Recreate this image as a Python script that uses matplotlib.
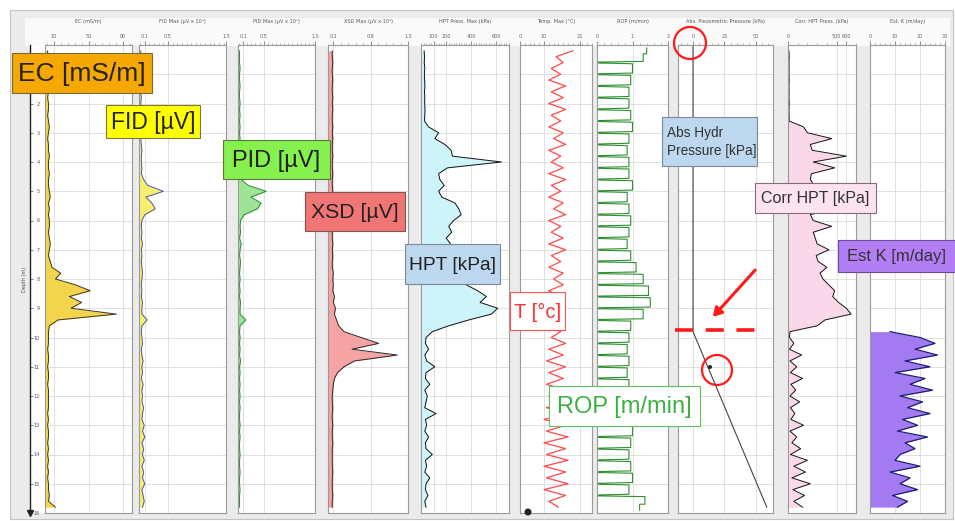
import numpy as np
import matplotlib
matplotlib.use("Agg")
import matplotlib.pyplot as plt
from matplotlib import patches
from matplotlib.ticker import AutoMinorLocator

W, H = 955, 521
nan = np.nan

# depth of each reading (m), 0.2 m spacing
depth_m = np.round(np.arange(1, 80) * 0.2, 1)

ec_ms_m = [3, 3, 4, 3, 4, 3, 4, 4, 3, 4,
           4, 3, 4, 5, 4, 3, 4, 4, 5, 4,
           4, 5, 4, 4, 5, 6, 4, 5, 4, 5,
           5, 4, 5, 6, 5, 4, 6, 8, 18, 12,
           35, 52, 28, 42, 30, 82, 15, 5, 4, 4,
           4, 3, 4, 4, 3, 4, 4, 3, 4, 4,
           4, 4, 3, 4, 3, 4, 4, 3, 4, 3,
           4, 3, 4, 3, 4, 4, 5, 4, 12]

fid_uv = [0.03, 0.03, 0.04, 0.03, 0.03, 0.04, 0.03, 0.03, 0.04, 0.03,
          0.04, 0.03, 0.04, 0.05, 0.04, 0.03, 0.04, 0.05, 0.04, 0.04,
          0.05, 0.04, 0.08, 0.15, 0.42, 0.12, 0.22, 0.28, 0.10, 0.05,
          0.04, 0.05, 0.04, 0.06, 0.04, 0.05, 0.04, 0.05, 0.06, 0.05,
          0.04, 0.05, 0.04, 0.06, 0.05, 0.05, 0.14, 0.05, 0.04, 0.05,
          0.06, 0.04, 0.05, 0.07, 0.05, 0.06, 0.04, 0.07, 0.05, 0.06,
          0.05, 0.08, 0.06, 0.05, 0.09, 0.06, 0.10, 0.05, 0.08, 0.06,
          0.09, 0.05, 0.08, 0.06, 0.10, 0.05, 0.07, 0.09, 0.06]

pid_uv = [0.03, 0.03, 0.03, 0.04, 0.03, 0.03, 0.04, 0.03, 0.03, 0.04,
          0.03, 0.04, 0.03, 0.04, 0.03, 0.04, 0.03, 0.04, 0.04, 0.03,
          0.04, 0.03, 0.06, 0.20, 0.55, 0.25, 0.45, 0.38, 0.12, 0.05,
          0.04, 0.05, 0.03, 0.06, 0.04, 0.03, 0.05, 0.04, 0.03, 0.04,
          0.03, 0.04, 0.03, 0.05, 0.04, 0.04, 0.15, 0.04, 0.03, 0.04,
          0.03, 0.04, 0.03, 0.05, 0.03, 0.04, 0.03, 0.04, 0.03, 0.04,
          0.03, 0.04, 0.03, 0.03, 0.04, 0.03, 0.04, 0.03, 0.03, 0.04,
          0.03, 0.03, 0.04, 0.03, 0.03, 0.04, 0.03, 0.03, 0.03]

xsd_uv = [0.08, 0.08, 0.09, 0.08, 0.08, 0.09, 0.08, 0.08, 0.09, 0.08,
          0.09, 0.08, 0.08, 0.09, 0.08, 0.09, 0.08, 0.08, 0.09, 0.08,
          0.08, 0.09, 0.08, 0.08, 0.09, 0.08, 0.08, 0.09, 0.08, 0.08,
          0.09, 0.08, 0.08, 0.09, 0.08, 0.09, 0.08, 0.08, 0.10, 0.09,
          0.10, 0.09, 0.12, 0.10, 0.14, 0.12, 0.16, 0.20, 0.30, 0.62,
          0.95, 0.45, 1.30, 0.50, 0.30, 0.18, 0.12, 0.10, 0.09, 0.08,
          0.08, 0.09, 0.08, 0.08, 0.09, 0.08, 0.08, 0.09, 0.08, 0.08,
          0.08, 0.08, 0.09, 0.08, 0.08, 0.08, 0.09, 0.08, 0.08]

hpt_kpa = [25, 28, 26, 30, 27, 29, 31, 28, 30, 29,
           32, 30, 28, 60, 140, 110, 190, 240, 250, 640,
           210, 140, 150, 185, 140, 165, 270, 300, 320, 260,
           220, 245, 200, 235, 250, 285, 260, 300, 330, 400,
           360, 450, 520, 470, 610, 560, 380, 220, 90, 40,
           35, 60, 30, 45, 110, 40, 35, 70, 30, 50,
           40, 30, 120, 35, 45, 30, 60, 35, 40, 90,
           35, 45, 30, 70, 40, 35, 55, 30, 40]

temp_c = [22, 15, 18, 13, 17, 12, 19, 13, 18, 12,
          19, 13, 17, 12, 18, 14, 19, 12, 17, 13,
          18, 12, 19, 13, 17, 12, 18, 14, 19, 12,
          17, 13, 18, 12, 19, 13, 17, 12, 18, 14,
          18, 12, 17, 14, 18, 13, 19, 12, 17, 13,
          19, 12, 18, 11, 19, 12, 18, 11, 19, 12,
          19, 11, 20, 10, 19, 11, 20, 10, 19, 11,
          20, 10, 19, 11, 20, 10, 19, 12, 16]

# 0 marks a stop of the push (rod change)
rop_m_min = [1.4, 1.3, 0, 1.0, 0, 0.95, 0, 0.9, 0, 0.9,
             0, 0.95, 0, 1.0, 0, 0.9, 0, 0.85, 0, 0.9,
             0, 0.9, 0, 1.0, 0, 0.85, 0, 0.9, 0, 0.95,
             0, 0.9, 0, 0.85, 0, 0.95, 0, 1.1, 0, 1.3,
             0, 1.45, 0, 1.5, 0, 1.3, 0, 0.95, 0, 0.9,
             0, 0.85, 0, 0.9, 0, 0.85, 0, 0.9, 0, 0.8,
             0, 0.85, 0, 0.9, 0, 1.0, 0, 0.95, 0, 0.9,
             0, 0.95, 0, 1.0, 0, 0.9, 0, 1.35, 1.2]

# absolute hydrostatic pressure, only the break points of the line
abs_depth_m = [0.0, 9.8, 15.8]
abs_kpa = [0, 0, 59]

corr_hpt_kpa = [10, 12, 10, 11, 10, 12, 10, 11, 10, 12,
                10, 11, 12, 160, 200, 450, 230, 250, 600, 260,
                480, 240, 230, 270, 250, 300, 240, 470, 230, 260,
                450, 260, 280, 300, 420, 290, 310, 400, 330, 360,
                420, 480, 460, 520, 600, 650, 380, 300, 20, 15,
                60, 15, 140, 20, 90, 25, 150, 30, 80, 20,
                120, 25, 70, 30, 160, 20, 90, 40, 130, 25,
                200, 60, 180, 40, 230, 50, 170, 60, 150]

est_k_m_day = [nan] * 48 + [8, 20,
               26, 18, 27, 14, 24, 10, 22, 16, 25, 12,
               21, 15, 24, 13, 19, 11, 23, 14, 18, 12,
               10, 20, 8, 16, 12, 19, 9, 15, 11]

depth_ticks = list(range(1, 17))
depth_labels = [""] + [str(d) for d in depth_ticks[1:]]


def fx(x):
    return x / W


def fy(y):
    return 1 - y / H


fig = plt.figure(figsize=(W / 100, H / 100), dpi=100)
fig.patch.set_facecolor("white")

# window frame and header strip (behind the axes)
fig.patches.append(patches.Rectangle((fx(10), fy(519)), 943 / W, 509 / H, transform=fig.transFigure,
                                     fc="#ebebeb", ec="#c4c4c4", lw=0.8, zorder=-2))
fig.patches.append(patches.Rectangle((fx(25), fy(46)), 925 / W, 28 / H, transform=fig.transFigure,
                                     fc="#fafafa", ec="none", zorder=-1))

TOP, BOT = 45, 513


def log_axes(x0, x1, xlim, ticks, title):
    ax = fig.add_axes([fx(x0), fy(BOT), (x1 - x0) / W, (BOT - TOP) / H])
    ax.set_facecolor("white")
    ax.set_xlim(*xlim)
    ax.set_ylim(16, 0)
    ax.xaxis.tick_top()
    ax.set_xticks(ticks)
    ax.xaxis.set_minor_locator(AutoMinorLocator(5))
    ax.tick_params(axis="x", which="major", labelsize=3.5, colors="#666666", length=3, width=0.5, pad=1.5)
    ax.tick_params(axis="x", which="minor", length=1.8, width=0.4, colors="#777777")
    ax.set_yticks(depth_ticks)
    ax.tick_params(axis="y", length=0, labelleft=False)
    ax.grid(True, color="#dadada", lw=0.6)
    ax.set_axisbelow(True)
    for s in ax.spines.values():
        s.set_color("#9a9a9a")
        s.set_linewidth(0.8)
    ax.set_title(title, fontsize=3.6, color="#555555", pad=8)
    return ax


def filled_log(ax, values, line, fill, lw=0.7):
    v = np.array(values, dtype=float)
    lo = ax.get_xlim()[0]
    ax.fill_betweenx(depth_m, lo, v, where=~np.isnan(v), color=fill, lw=0)
    ax.plot(v, depth_m, color=line, lw=lw)


ax = log_axes(45, 132, (0, 100), [10, 50, 90], "EC (mS/m)")
filled_log(ax, ec_ms_m, "#3b3826", "#f2d54c")

ax = log_axes(139, 226, (0, 1.5), [0.1, 0.5, 1.5], "FID Max (µV x 10⁵)")
filled_log(ax, fid_uv, "#5650b0", "#f4ef6c")

ax = log_axes(238, 315, (0, 1.5), [0.1, 0.5, 1.5], "PID Max (µV x 10⁵)")
filled_log(ax, pid_uv, "#2e8b3a", "#9fe496")

ax = log_axes(328, 408, (0, 1.5), [0.1, 0.8, 1.5], "XSD Max (µV x 10⁵)")
filled_log(ax, xsd_uv, "#2a2a2a", "#f5a3a3")

ax = log_axes(421, 509, (0, 700), [100, 200, 400, 600], "HPT Press. Max (kPa)")
filled_log(ax, hpt_kpa, "#111111", "#cdf4f9")

ax = log_axes(520, 592, (0, 30), [0, 10, 25], "Temp. Max (°C)")
ax.plot(temp_c, depth_m, color="#ff4a4a", lw=0.9)

# ROP as a comb: a reading holds over its interval, a stop is a thin tooth to zero
ax = log_axes(597, 668, (0, 2), [0, 1, 2], "ROP (m/min)")
rop_x, rop_y = [], []
for i, (d, v) in enumerate(zip(depth_m, rop_m_min)):
    if v > 0:
        rop_x += [v, v]
        rop_y += [d - 0.1, d + 0.1]
    else:
        rop_x += [rop_m_min[i - 1], 0, 0, rop_m_min[i + 1]]
        rop_y += [d - 0.04, d - 0.015, d + 0.015, d + 0.04]
ax.plot(rop_x, rop_y, color="#2f8f32", lw=0.8)

ax = log_axes(678, 773, (-12, 64), [0, 25, 50], "Abs. Piezometric Pressure (kPa)")
ax.plot(abs_kpa, abs_depth_m, color="#444444", lw=0.8)

ax = log_axes(788, 856, (0, 700), [0, 500, 600], "Corr. HPT Press. (kPa)")
filled_log(ax, corr_hpt_kpa, "#151515", "#fad8e9")

ax = log_axes(870, 945, (0, 30), [0, 10, 20, 30], "Est. K (m/day)")
filled_log(ax, est_k_m_day, "#1c2070", "#a47af3", lw=0.9)

# depth axis on the far left
axd = fig.add_axes([fx(30), fy(BOT), 15 / W, (BOT - TOP) / H])
axd.set_xlim(0, 1)
axd.set_ylim(16, 0)
axd.set_facecolor("white")
for k in ["top", "right", "bottom"]:
    axd.spines[k].set_visible(False)
axd.spines["left"].set_color("#222222")
axd.spines["left"].set_linewidth(1.0)
axd.set_xticks([])
axd.set_yticks(depth_ticks)
axd.set_yticklabels(depth_labels)
axd.tick_params(axis="y", direction="in", length=2, width=0.5, pad=-7, labelsize=3.5, colors="#555555")
axd.set_ylabel("Depth (m)", fontsize=3.5, color="#555555", labelpad=2)
axd.plot([0], [16], marker="v", color="#222222", ms=4, clip_on=False)

# label boxes: text, x0, y0, x1, y1, face, text colour, edge, size
labels = [
    ("EC [mS/m]", 12, 53, 152, 93, "#f6a800", "#222222", "#7a6a3a", 19),
    ("FID [µV]", 106, 105, 200, 138, "#ffff00", "#222222", "#7a7a3a", 16.5),
    ("PID [µV]", 223, 140, 330, 179, "#86f04f", "#222222", "#5a7a3a", 17),
    ("XSD [µV]", 305, 192, 405, 231, "#f07676", "#222222", "#8a5050", 15.3),
    ("HPT [kPa]", 405, 244, 500, 284, "#bdd7ee", "#222222", "#7a8a9a", 13.8),
    ("T [°c]", 510, 292, 565, 330, "white", "#ff3030", "#ff5050", 14.5),
    ("ROP [m/min]", 549, 386, 700, 426, "white", "#3cb043", "#60c060", 17),
    ("Corr HPT [kPa]", 755, 183, 876, 213, "#fde2ef", "#333333", "#8a6a7a", 11.5),
    ("Est K [m/day]", 838, 240, 955, 272, "#b37ef5", "#333333", "#6a4a9a", 12),
]
for text, x0, y0, x1, y1, face, tc, ec, size in labels:
    fig.patches.append(patches.Rectangle((fx(x0), fy(y1)), (x1 - x0) / W, (y1 - y0) / H,
                                         transform=fig.transFigure, fc=face, ec=ec, lw=0.8, zorder=5))
    fig.text(fx((x0 + x1) / 2), fy((y0 + y1) / 2 + 1), text, ha="center", va="center", color=tc,
             fontsize=size, family="Liberation Sans", zorder=6)

# two-line pressure label, left aligned
fig.patches.append(patches.Rectangle((fx(662), fy(166)), 95 / W, 49 / H, transform=fig.transFigure,
                                     fc="#bdd7ee", ec="#7a8a9a", lw=0.8, zorder=5))
fig.text(fx(667), fy(142), "Abs Hydr\nPressure [kPa]", ha="left", va="center", color="#333333",
         fontsize=9.8, family="Liberation Sans", zorder=6, linespacing=1.35)

# red markings on the pressure track
fig.patches.append(patches.Ellipse((fx(690), fy(43)), 32 / W, 32 / H, transform=fig.transFigure,
                                   fill=False, ec="#ff1a1a", lw=1.6, zorder=7))
fig.patches.append(patches.Ellipse((fx(717), fy(370)), 30 / W, 30 / H, transform=fig.transFigure,
                                   fill=False, ec="#ff1a1a", lw=1.6, zorder=7))
fig.patches.append(patches.Ellipse((fx(710), fy(367)), 4 / W, 4 / H, transform=fig.transFigure,
                                   fc="#222222", ec="none", zorder=7))
fig.lines.append(plt.Line2D([fx(675), fx(766)], [fy(330), fy(330)], transform=fig.transFigure,
                            color="#ff1a1a", lw=2.6, dashes=(5, 3.5), zorder=7))
fig.patches.append(patches.FancyArrowPatch((fx(757), fy(268)), (fx(711), fy(319)), transform=fig.transFigure,
                                           arrowstyle="-|>,head_length=5,head_width=3", color="#ff1a1a",
                                           lw=2.2, zorder=7))
# small icon at the bottom of the temperature track
fig.patches.append(patches.Ellipse((fx(528), fy(512)), 7 / W, 7 / H, transform=fig.transFigure,
                                   fc="#222222", ec="none", zorder=7))

fig.savefig("out.png", dpi=100)
